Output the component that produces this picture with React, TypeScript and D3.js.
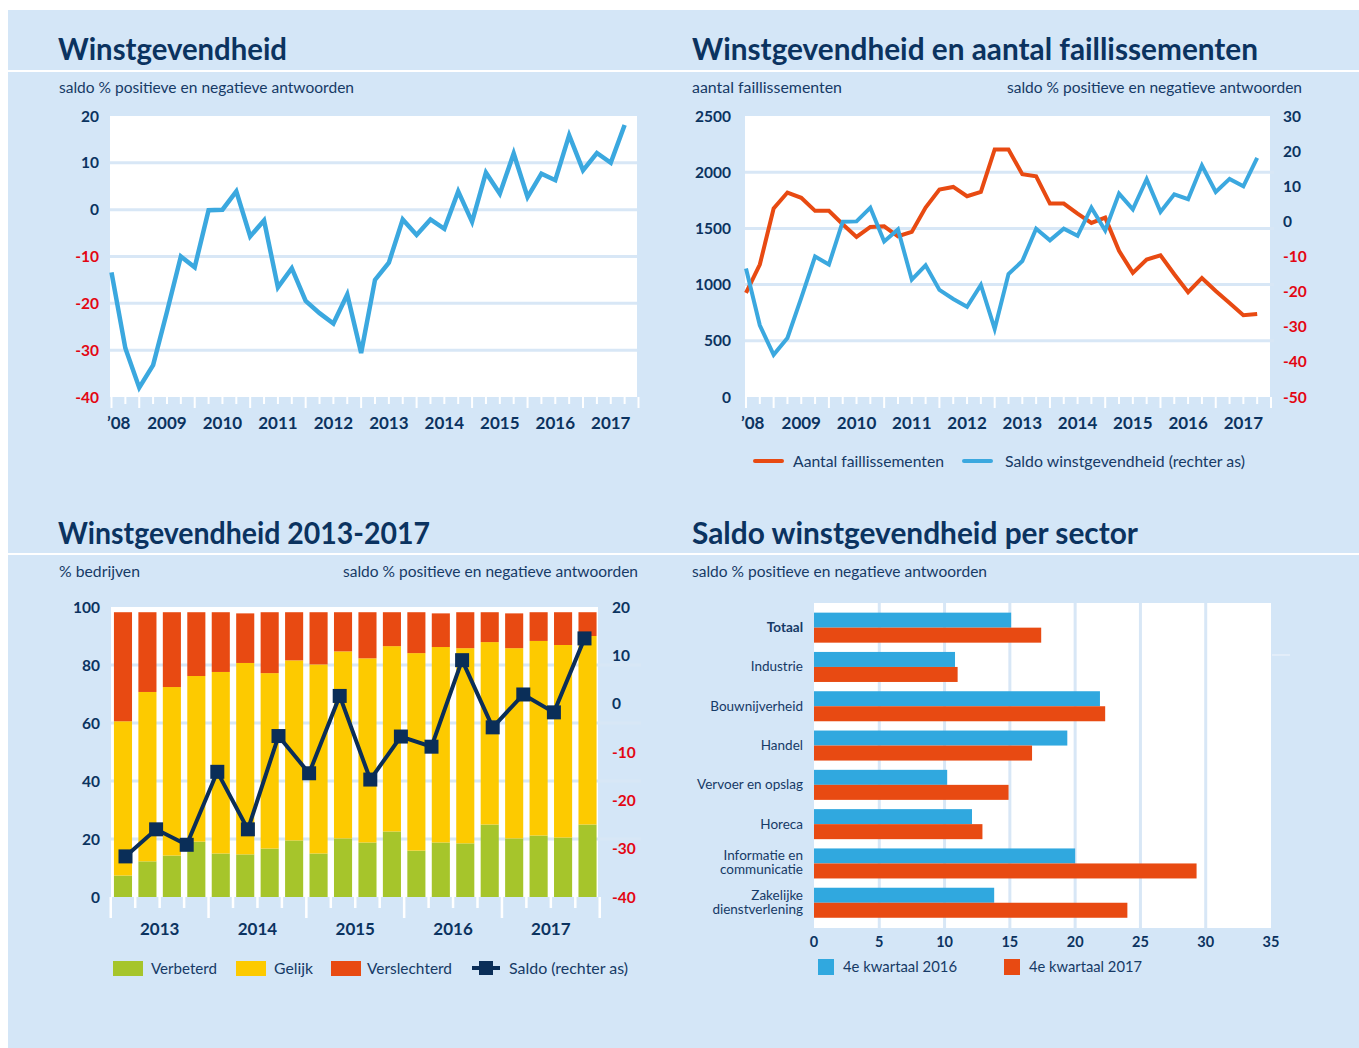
import React from "react";
import * as d3 from "d3";

// ---------- DATA ----------
// Quarterly series 2008Q3 .. 2017Q4 (38 quarters)
const saldoWinst = [-13.4, -29.6, -38, -33.2, -21.8, -10, -12.3, -0.1, 0, 3.9, -5.7, -2.3, -16.6, -12.5, -19.5, -22.1, -24.3, -18.1, -30.6, -15, -11.3, -2.1, -5.4, -2.1, -4.1, 3.9, -2.6, 7.9, 3.4, 12, 2.7, 7.7, 6.3, 15.9, 8.4, 12.1, 10, 18.1];
const faillissementen = [926, 1178, 1677, 1819, 1772, 1656, 1656, 1537, 1424, 1513, 1519, 1430, 1469, 1686, 1846, 1869, 1786, 1825, 2202, 2202, 1982, 1964, 1721, 1721, 1632, 1549, 1596, 1300, 1104, 1223, 1261, 1092, 932, 1059, 944, 837, 727, 739];
const yearLabels = ["\u201908", "2009", "2010", "2011", "2012", "2013", "2014", "2015", "2016", "2017"];
const ticksTL = [20, 10, 0, -10, -20, -30, -40];
const ticksTRleft = [0, 500, 1000, 1500, 2000, 2500];
const ticksTRright = [30, 20, 10, 0, -10, -20, -30, -40, -50];

// 2013Q1 .. 2017Q4
const barYears = ["2013", "2014", "2015", "2016", "2017"];
const verbeterd = [7.4, 12.3, 14.3, 19.1, 15.0, 14.7, 16.7, 19.5, 15.0, 20.2, 18.8, 22.6, 16.0, 18.8, 18.5, 25.0, 20.2, 21.2, 20.5, 25.0];
const gelijk = [53.2, 58.4, 58.1, 57.1, 62.6, 66.0, 60.5, 62.1, 65.2, 64.5, 63.5, 63.9, 68.1, 67.4, 67.3, 62.9, 65.6, 67.1, 66.4, 65.0];
const verslechterd = [37.6, 27.5, 25.8, 22.0, 20.6, 17.1, 21.0, 16.6, 18.0, 13.5, 15.9, 11.7, 14.1, 11.6, 12.4, 10.3, 12.0, 9.9, 11.3, 8.2];
const saldoKwartaal = [-31.6, -26.0, -29.2, -14.1, -26.0, -6.7, -14.4, 1.6, -15.7, -6.8, -8.9, 9.0, -4.9, 1.9, -1.8, 13.5];
const ticksBLleft = [0, 20, 40, 60, 80, 100];
const ticksBLright = [20, 10, 0, -10, -20, -30, -40];

const sectors = ["Totaal", "Industrie", "Bouwnijverheid", "Handel", "Vervoer en opslag", "Horeca", "Informatie en communicatie", "Zakelijke dienstverlening"];
const sectorLines = [["Totaal"], ["Industrie"], ["Bouwnijverheid"], ["Handel"], ["Vervoer en opslag"], ["Horeca"], ["Informatie en", "communicatie"], ["Zakelijke", "dienstverlening"]];
const kw2016 = [15.1, 10.8, 21.9, 19.4, 10.2, 12.1, 20.0, 13.8];
const kw2017 = [17.4, 11.0, 22.3, 16.7, 14.9, 12.9, 29.3, 24.0];
const ticksBR = [0, 5, 10, 15, 20, 25, 30, 35];

// ---------- STYLE ----------
const C = {
  bg: "#d4e6f7",
  navy: "#0b3360",
  text: "#163a66",
  red: "#e30613",
  blue: "#3ba8df",
  orange: "#e84a12",
  yellow: "#fdca00",
  green: "#a6c52b",
  barBlue: "#30a8df",
  marker: "#0a2e58",
  grid: "#d8e7f6",
};
const FONT = "Lato, 'Open Sans', sans-serif";

function Title({ x, y, w, children }: any) {
  return (
    <text x={x} y={y} fontSize={31} fontWeight={700} fill={C.navy} textLength={w} lengthAdjust="spacingAndGlyphs">
      {children}
    </text>
  );
}

function Sub({ x, y, anchor = "start", w, children }: any) {
  return (
    <text x={x} y={y} fontSize={14.5} fill={C.text} textAnchor={anchor} textLength={w} lengthAdjust="spacingAndGlyphs">
      {children}
    </text>
  );
}

function QuarterAxis({ x, bottom, firstX }: any) {
  const idx = d3.range(39);
  return (
    <g>
      {idx.map((i) => {
        const long = i === 0 || (i - 2) % 4 === 0;
        return <line key={i} x1={x(i)} x2={x(i)} y1={bottom} y2={bottom + (long ? 11 : 7)} stroke="#fff" strokeWidth={2} />;
      })}
      {yearLabels.map((lab, k) => (
        <text key={lab} x={k === 0 ? firstX : x(4 * k)} y={429} fontSize={17} fontWeight={700} fill={C.navy} textAnchor={k === 0 ? "start" : "middle"}>
          {lab}
        </text>
      ))}
    </g>
  );
}

function TopLeft() {
  const x = d3.scaleLinear().domain([0, 38]).range([111.5, 638.5]);
  const y = d3.scaleLinear().domain([-40, 20]).range([397, 116]);
  const line = d3.line<number>().x((_, i) => x(i)).y((d) => y(d));
  return (
    <g>
      <rect x={110} y={116} width={527} height={281} fill="#fff" />
      {ticksTL.filter((t) => t > -40 && t < 20).map((t) => (
        <line key={t} x1={110} x2={637} y1={y(t)} y2={y(t)} stroke={C.grid} strokeWidth={3} />
      ))}
      {ticksTL.map((t) => (
        <text key={t} x={99} y={y(t) + 5.5} fontSize={15.5} fontWeight={700} textAnchor="end" fill={t < 0 ? C.red : C.navy}>
          {t}
        </text>
      ))}
      <path d={line(saldoWinst) || ""} fill="none" stroke={C.blue} strokeWidth={4.5} strokeLinejoin="miter" />
      <QuarterAxis x={x} bottom={397} firstX={107} />
    </g>
  );
}

function TopRight() {
  const x = d3.scaleLinear().domain([0, 38]).range([746, 1271]);
  const yl = d3.scaleLinear().domain([0, 2500]).range([397, 116]);
  const yr = d3.scaleLinear().domain([-50, 30]).range([397, 116]);
  const lineL = d3.line<number>().x((_, i) => x(i)).y((d) => yl(d));
  const lineR = d3.line<number>().x((_, i) => x(i)).y((d) => yr(d));
  return (
    <g>
      <rect x={745} y={116} width={525} height={281} fill="#fff" />
      {ticksTRleft.filter((t) => t > 0 && t < 2500).map((t) => (
        <line key={t} x1={745} x2={1274} y1={yl(t)} y2={yl(t)} stroke={C.grid} strokeWidth={3} />
      ))}
      {ticksTRleft.map((t) => (
        <text key={t} x={731} y={yl(t) + 5.5} fontSize={15.5} fontWeight={700} textAnchor="end" fill={C.navy}>
          {t}
        </text>
      ))}
      {ticksTRright.map((t) => (
        <text key={t} x={1283} y={yr(t) + 5.5} fontSize={15.5} fontWeight={700} textAnchor="start" fill={t < 0 ? C.red : C.navy}>
          {t}
        </text>
      ))}
      <path d={lineL(faillissementen) || ""} fill="none" stroke={C.orange} strokeWidth={4} />
      <path d={lineR(saldoWinst) || ""} fill="none" stroke={C.blue} strokeWidth={4} />
      <QuarterAxis x={x} bottom={397} firstX={741} />
      {/* legend */}
      <line x1={755} x2={782} y1={461} y2={461} stroke={C.orange} strokeWidth={4} strokeLinecap="round" />
      <text x={793} y={466.5} fontSize={15} fill={C.text} textLength={151} lengthAdjust="spacingAndGlyphs">Aantal faillissementen</text>
      <line x1={964} x2={991} y1={461} y2={461} stroke={C.blue} strokeWidth={4} strokeLinecap="round" />
      <text x={1005} y={466.5} fontSize={15} fill={C.text} textLength={240} lengthAdjust="spacingAndGlyphs">Saldo winstgevendheid (rechter as)</text>
    </g>
  );
}

function BottomLeft() {
  const n = verbeterd.length;
  const x = d3.scaleBand<number>().domain(d3.range(n)).range([111, 599.5]).paddingInner(0.26).paddingOuter(0.12);
  const yl = d3.scaleLinear().domain([0, 100]).range([897, 607]);
  const yr = d3.scaleLinear().domain([-40, 20]).range([897, 607]);
  const step = x.step();
  const bw = x.bandwidth();
  const tickX = (i: number) => (x(0) as number) - (step - bw) / 2 + i * step;
  const xs = d3.scaleLinear().domain([0, saldoKwartaal.length - 1]).range([125.5, 584.5]);
  const line = d3.line<number>().x((_, i) => xs(i)).y((d) => yr(d));
  const stack = d3.range(n).map((i) => {
    const g0 = verbeterd[i];
    const g1 = g0 + gelijk[i];
    const g2 = g1 + verslechterd[i];
    return [[0, g0, C.green], [g0, g1, C.yellow], [g1, g2, C.orange]] as [number, number, string][];
  });
  return (
    <g>
      <rect x={111} y={607} width={487} height={290} fill="#fff" />
      {ticksBLleft.filter((t) => t > 0 && t < 100).map((t) => (
        <line key={t} x1={111} x2={641} y1={yl(t)} y2={yl(t)} stroke={C.grid} strokeWidth={3} />
      ))}
      {stack.map((segs, i) =>
        segs.map(([a, b, col], j) => (
          <rect key={i + "-" + j} x={x(i)} y={yl(b)} width={bw} height={yl(a) - yl(b)} fill={col} />
        ))
      )}
      {d3.range(n + 1).map((i) => (
        <line key={i} x1={tickX(i)} x2={tickX(i)} y1={897} y2={i % 4 === 0 ? 918 : 908} stroke="#fff" strokeWidth={2.5} />
      ))}
      {barYears.map((yy, k) => (
        <text key={yy} x={(tickX(4 * k) + tickX(4 * k + 4)) / 2} y={935} fontSize={17} fontWeight={700} textAnchor="middle" fill={C.navy}>
          {yy}
        </text>
      ))}
      {ticksBLleft.map((t) => (
        <text key={t} x={100} y={yl(t) + 5.5} fontSize={15.5} fontWeight={700} textAnchor="end" fill={C.navy}>
          {t}
        </text>
      ))}
      {ticksBLright.map((t) => (
        <text key={t} x={612} y={yr(t) + 5.5} fontSize={15.5} fontWeight={700} textAnchor="start" fill={t < 0 ? C.red : C.navy}>
          {t}
        </text>
      ))}
      <path d={line(saldoKwartaal) || ""} fill="none" stroke={C.marker} strokeWidth={4} strokeLinejoin="miter" />
      {saldoKwartaal.map((d, i) => (
        <rect key={i} x={xs(i) - 7} y={yr(d) - 7} width={14} height={14} fill={C.marker} />
      ))}
      {/* legend */}
      <rect x={113} y={961} width={30} height={15} fill={C.green} />
      <text x={151} y={974} fontSize={15} fill={C.text} textLength={66} lengthAdjust="spacingAndGlyphs">Verbeterd</text>
      <rect x={236} y={961} width={30} height={15} fill={C.yellow} />
      <text x={274} y={974} fontSize={15} fill={C.text} textLength={39} lengthAdjust="spacingAndGlyphs">Gelijk</text>
      <rect x={331} y={961} width={30} height={15} fill={C.orange} />
      <text x={367} y={974} fontSize={15} fill={C.text} textLength={85} lengthAdjust="spacingAndGlyphs">Verslechterd</text>
      <line x1={472} x2={500} y1={968} y2={968} stroke={C.marker} strokeWidth={4} />
      <rect x={479} y={961} width={14} height={14} fill={C.marker} />
      <text x={509} y={974} fontSize={15} fill={C.text} textLength={119} lengthAdjust="spacingAndGlyphs">Saldo (rechter as)</text>
    </g>
  );
}

function BottomRight() {
  const x = d3.scaleLinear().domain([0, 35]).range([814, 1271]);
  const y = d3.scaleBand<string>().domain(sectors).range([608, 922.4]).paddingInner(0.236).paddingOuter(0.118);
  const bw = y.bandwidth();
  return (
    <g>
      <rect x={814} y={603} width={457} height={325} fill="#fff" />
      {ticksBR.filter((t) => t > 0 && t < 35).map((t) => (
        <line key={t} x1={x(t)} x2={x(t)} y1={603} y2={928} stroke={C.grid} strokeWidth={3} />
      ))}
      <line x1={1272} x2={1290} y1={655} y2={655} stroke="#e2edf9" strokeWidth={2} />
      {sectors.map((s, i) => {
        const y0 = y(s) as number;
        const c = y0 + bw / 2;
        return (
          <g key={s}>
            <rect x={x(0)} y={y0} width={x(kw2016[i]) - x(0)} height={bw / 2} fill={C.barBlue} />
            <rect x={x(0)} y={c} width={x(kw2017[i]) - x(0)} height={bw / 2} fill={C.orange} />
            {sectorLines[i].length === 1 ? (
              <text x={803} y={c + 4.5} fontSize={13.5} fontWeight={i === 0 ? 700 : 400} textAnchor="end" fill={C.text}>
                {sectorLines[i][0]}
              </text>
            ) : (
              sectorLines[i].map((l, k) => (
                <text key={k} x={803} y={c - 3 + k * 14} fontSize={13.5} textAnchor="end" fill={C.text}>
                  {l}
                </text>
              ))
            )}
          </g>
        );
      })}
      {ticksBR.map((t) => (
        <text key={t} x={x(t)} y={947} fontSize={14.5} fontWeight={700} textAnchor="middle" fill={C.navy}>
          {t}
        </text>
      ))}
      <rect x={818} y={959} width={16} height={16} fill={C.barBlue} />
      <text x={843} y={972} fontSize={15} fill={C.text} textLength={114} lengthAdjust="spacingAndGlyphs">4e kwartaal 2016</text>
      <rect x={1004} y={959} width={16} height={16} fill={C.orange} />
      <text x={1029} y={972} fontSize={15} fill={C.text} textLength={113} lengthAdjust="spacingAndGlyphs">4e kwartaal 2017</text>
    </g>
  );
}

export default function App() {
  return (
    <div style={{ position: "absolute", left: 0, top: 0 }}>
      <svg width={1359} height={1048} style={{ display: "block", fontFamily: FONT }}>
        <rect x={0} y={0} width={1359} height={1048} fill="#fff" />
        <rect x={8} y={10} width={1351} height={1038} fill={C.bg} />
        <line x1={8} x2={1359} y1={71} y2={71} stroke="#fff" strokeWidth={2} />
        <line x1={8} x2={1359} y1={554} y2={554} stroke="#fff" strokeWidth={2} />
        <Title x={58} y={60} w={229}>Winstgevendheid</Title>
        <Title x={692} y={60} w={566}>Winstgevendheid en aantal faillissementen</Title>
        <Title x={58} y={544} w={372}>Winstgevendheid 2013-2017</Title>
        <Title x={692} y={544} w={446}>Saldo winstgevendheid per sector</Title>
        <Sub x={59} y={93} w={295}>saldo % positieve en negatieve antwoorden</Sub>
        <Sub x={692} y={93} w={150}>aantal faillissementen</Sub>
        <Sub x={1302} y={93} anchor="end" w={295}>saldo % positieve en negatieve antwoorden</Sub>
        <Sub x={59} y={577} w={81}>% bedrijven</Sub>
        <Sub x={638} y={577} anchor="end" w={295}>saldo % positieve en negatieve antwoorden</Sub>
        <Sub x={692} y={577} w={295}>saldo % positieve en negatieve antwoorden</Sub>
        <TopLeft />
        <TopRight />
        <BottomLeft />
        <BottomRight />
      </svg>
    </div>
  );
}
